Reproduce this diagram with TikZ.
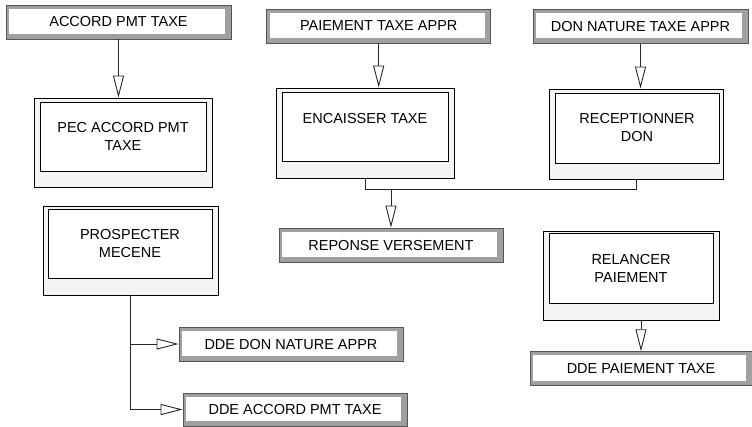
\documentclass[tikz,border=0pt]{standalone}
\usepackage{fontspec}
\setmainfont{Liberation Sans}
\usepackage{xcolor}
\usepackage{tikz}
\usetikzlibrary{arrows.meta,calc,positioning}

\definecolor{bandgray}{HTML}{A0A0A0}
\definecolor{edgegray}{HTML}{555555}
\definecolor{procfill}{HTML}{F4F4F4}

\begin{document}
\begin{tikzpicture}[
    x=1bp,
    y=-1bp,
    font=\fontsize{14.5bp}{18bp}\selectfont,
    evt/.style={draw=edgegray,fill=bandgray,line width=0.9bp,inner sep=0pt,
        path picture={\fill[white]
            ([xshift=3bp,yshift=5bp]path picture bounding box.south west) rectangle
            ([xshift=-6bp,yshift=-3.5bp]path picture bounding box.north east);}},
    proc/.style={draw=black,fill=procfill,line width=0.9bp,inner sep=0pt},
    procin/.style={draw=black,fill=white,line width=0.9bp,inner sep=0pt,align=center},
    wire/.style={draw=black!85,line width=0.9bp},
    flow/.style={wire,-{Triangle[open,length=22bp,width=11bp]}}
]

\useasboundingbox (0,0) rectangle (752,426);

% events
\node[evt,minimum width=225bp,minimum height=34bp] (accord) at (118.5,22) {ACCORD PMT TAXE};
\node[evt,minimum width=224bp,minimum height=34bp] (paiem) at (378.7,26) {PAIEMENT TAXE APPR};
\node[evt,minimum width=215bp,minimum height=34bp] (donnat) at (640.5,26.3) {DON NATURE TAXE APPR};
\node[evt,minimum width=224bp,minimum height=34bp] (reponse) at (391,245) {REPONSE VERSEMENT};
\node[evt,minimum width=224bp,minimum height=34bp] (ddedon) at (291,344) {DDE DON NATURE APPR};
\node[evt,minimum width=224bp,minimum height=33bp] (ddeacc) at (295,409.5) {DDE ACCORD PMT TAXE};
\node[evt,minimum width=222bp,minimum height=34bp] (ddepai) at (641,368.7) {DDE PAIEMENT TAXE};

% processes
\node[proc,minimum width=178bp,minimum height=89bp] (pec) at (123,142.5) {};
\node[procin,minimum width=166bp,minimum height=69bp] (pecbox) at (123,136.5) {PEC ACCORD PMT\\TAXE};

\node[proc,minimum width=178bp,minimum height=90bp] (encais) at (365,133) {};
\node[procin,minimum width=166bp,minimum height=69bp] (encaisbox) at (365,127) {ENCAISSER TAXE\\\mbox{}};

\node[proc,minimum width=174bp,minimum height=90bp] (recept) at (636,134) {};
\node[procin,minimum width=164bp,minimum height=70bp] (receptbox) at (637,128) {RECEPTIONNER\\DON};

\node[proc,minimum width=175bp,minimum height=89bp] (prosp) at (130.5,250.5) {};
\node[procin,minimum width=164bp,minimum height=69bp] (prospbox) at (130,243.5) {PROSPECTER\\MECENE};

\node[proc,minimum width=176bp,minimum height=89bp] (relancer) at (631,275.5) {};
\node[procin,minimum width=164bp,minimum height=70bp] (relancerbox) at (631,268) {RELANCER\\PAIEMENT};

% links
\draw[flow] (accord.south) -- (accord.south |- pec.north);
\draw[flow] (paiem.south) -- (paiem.south |- encais.north);
\draw[flow] (donnat.south) -- (donnat.south |- recept.north);

\coordinate (merge) at (391,189.5);
\draw[wire] (encais.south) |- (merge);
\draw[wire] (recept.south) |- (merge);
\draw[flow] (merge) -- (merge |- reponse.north);

\draw[flow] (prosp.south) |- (ddedon.west);
\draw[flow] (prosp.south) |- (ddeacc.west);

\draw[flow] (ddepai.north |- relancer.south) -- (ddepai.north);

\end{tikzpicture}
\end{document}
